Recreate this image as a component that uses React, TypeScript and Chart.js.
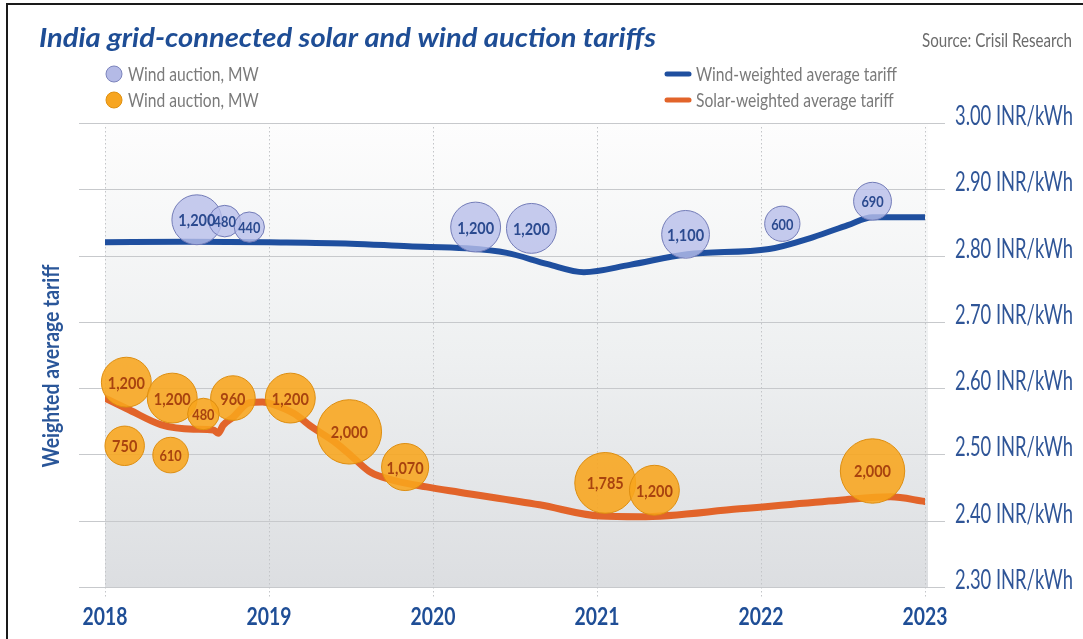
import React, { useEffect, useRef } from "react";
import { Chart, registerables } from "chart.js";

Chart.register(...registerables);

// ---------- DATA ----------
const yearTicks = [2018, 2019, 2020, 2021, 2022, 2023];
const tariffTicks = [2.3, 2.4, 2.5, 2.6, 2.7, 2.8, 2.9, 3.0];

const windLineYears = [2018.0, 2018.5, 2019.0, 2019.5, 2019.85, 2020.2, 2020.45, 2020.7, 2020.92, 2021.2, 2021.55, 2022.05, 2022.32, 2022.53, 2022.68, 2023.0];
const windLineTariff = [2.82, 2.821, 2.82, 2.818, 2.814, 2.811, 2.804, 2.787, 2.775, 2.786, 2.802, 2.81, 2.828, 2.846, 2.858, 2.858];

const solarLineYears = [2018.0, 2018.15, 2018.34, 2018.54, 2018.66, 2018.69, 2018.72, 2018.78, 2018.88, 2018.96, 2019.03, 2019.15, 2019.27, 2019.41, 2019.51, 2019.62, 2019.76, 2019.96, 2020.16, 2020.65, 2021.02, 2021.26, 2021.87, 2022.48, 2022.79, 2023.0];
const solarLineTariff = [2.585, 2.567, 2.545, 2.538, 2.537, 2.532, 2.544, 2.556, 2.578, 2.579, 2.575, 2.562, 2.54, 2.517, 2.496, 2.473, 2.461, 2.451, 2.443, 2.424, 2.407, 2.406, 2.418, 2.431, 2.436, 2.429];

const windBubbleYears = [2018.56, 2018.73, 2018.88, 2020.26, 2020.6, 2021.54, 2022.13, 2022.68];
const windBubbleTariff = [2.854, 2.852, 2.843, 2.843, 2.841, 2.832, 2.848, 2.882];
const windBubbleMW = [1200, 480, 440, 1200, 1200, 1100, 600, 690];

const solarBubbleYears = [2018.13, 2018.12, 2018.41, 2018.4, 2018.78, 2018.6, 2019.13, 2019.49, 2019.83, 2021.05, 2021.35, 2022.68];
const solarBubbleTariff = [2.609, 2.513, 2.585, 2.499, 2.585, 2.561, 2.585, 2.534, 2.481, 2.457, 2.446, 2.475];
const solarBubbleMW = [1200, 750, 1200, 610, 960, 480, 1200, 2000, 1070, 1785, 1200, 2000];

const TITLE = "India grid-connected solar and wind auction tariffs";
const SOURCE = "Source: Crisil Research";
const Y_TITLE = "Weighted average tariff";
const UNIT = "INR/kWh";

// ---------- STYLE ----------
const FONT = "Lato, 'Open Sans', 'DejaVu Sans', sans-serif";
const WIND_LINE = "#1f4f9f";
const SOLAR_LINE = "#e2642a";
const WIND_FILL = "rgba(184,190,234,0.8)";
const WIND_BORDER = "#737cb8";
const SOLAR_FILL = "rgba(248,165,28,0.88)";
const SOLAR_BORDER = "#de8e10";

const radiusFor = (mw: number) => 0.72 * Math.sqrt(mw);

function drawSqueezed(
  ctx: CanvasRenderingContext2D,
  text: string,
  x: number,
  y: number,
  font: string,
  color: string,
  sx: number,
  align: "left" | "center" | "right" = "left",
  baseline: CanvasTextBaseline = "alphabetic"
) {
  ctx.save();
  ctx.font = font;
  ctx.fillStyle = color;
  ctx.textAlign = "left";
  ctx.textBaseline = baseline;
  const w = ctx.measureText(text).width * sx;
  let x0 = x;
  if (align === "center") x0 = x - w / 2;
  else if (align === "right") x0 = x - w;
  ctx.translate(x0, y);
  ctx.scale(sx, 1);
  ctx.fillText(text, 0, 0);
  ctx.restore();
}

function fitScale(ctx: CanvasRenderingContext2D, font: string, sample: string, width: number) {
  ctx.save();
  ctx.font = font;
  const w = ctx.measureText(sample).width;
  ctx.restore();
  return width / w;
}

const decorPlugin = {
  id: "decor",
  beforeDraw(chart: any) {
    const ctx = chart.ctx as CanvasRenderingContext2D;
    ctx.save();
    ctx.fillStyle = "#ffffff";
    ctx.fillRect(0, 0, chart.width, chart.height);
    ctx.restore();
  },
  beforeDatasetsDraw(chart: any) {
    const ctx = chart.ctx as CanvasRenderingContext2D;
    const { top, bottom, left, right } = chart.chartArea;
    const xs = chart.scales.x;
    const ys = chart.scales.y;
    ctx.save();
    const g = ctx.createLinearGradient(0, top, 0, bottom);
    g.addColorStop(0, "#fdfdfd");
    g.addColorStop(0.5, "#eef0f1");
    g.addColorStop(1, "#dcdee1");
    ctx.fillStyle = g;
    ctx.fillRect(left, top, right + 3 - left, bottom - top);

    // horizontal grid
    ctx.strokeStyle = "#c7c9cc";
    ctx.lineWidth = 1.2;
    tariffTicks.forEach((t) => {
      const y = Math.round(ys.getPixelForValue(t)) + 0.5;
      ctx.beginPath();
      ctx.moveTo(left - 26, y);
      ctx.lineTo(right + 20, y);
      ctx.stroke();
    });
    // vertical dotted
    ctx.strokeStyle = "#c3c5c8";
    ctx.lineWidth = 1;
    ctx.setLineDash([1.5, 2.5]);
    yearTicks.forEach((yr) => {
      const x = Math.round(xs.getPixelForValue(yr)) + 0.5;
      ctx.beginPath();
      ctx.moveTo(x, top + 4);
      ctx.lineTo(x, bottom + 10);
      ctx.stroke();
    });
    ctx.restore();
  },
  afterDatasetsDraw(chart: any) {
    const ctx = chart.ctx as CanvasRenderingContext2D;
    const sx = fitScale(ctx, `bold 17px ${FONT}`, "1,200", 37);
    const sets = [
      { idx: 0, mw: windBubbleMW, color: "#2b4a8f" },
      { idx: 1, mw: solarBubbleMW, color: "#a8430f" },
    ];
    sets.forEach((s) => {
      const meta = chart.getDatasetMeta(s.idx);
      meta.data.forEach((el: any, i: number) => {
        const mw = s.mw[i];
        const size = mw >= 700 ? 17 : 15;
        drawSqueezed(ctx, mw.toLocaleString("en-US"), el.x, el.y + 1, `bold ${size}px ${FONT}`, s.color, sx, "center", "middle");
      });
    });
  },
  afterDraw(chart: any) {
    const ctx = chart.ctx as CanvasRenderingContext2D;
    const xs = chart.scales.x;
    const ys = chart.scales.y;
    const ds = chart.data.datasets;

    // title
    const tFont = `italic 700 26px ${FONT}`;
    drawSqueezed(ctx, TITLE, 39, 47, tFont, "#1e4d95", fitScale(ctx, tFont, TITLE, 617));
    // source
    const sFont = `400 19px ${FONT}`;
    drawSqueezed(ctx, SOURCE, 922, 47, sFont, "#6b6b6b", fitScale(ctx, sFont, SOURCE, 150));

    // legends
    const lFont = `400 20px ${FONT}`;
    const lsx = fitScale(ctx, lFont, ds[2].label, 201);
    const rows = [74, 100];
    [
      { fill: "#b4bae6", stroke: "#7c84bd" },
      { fill: "#f7a520", stroke: "#e0900f" },
    ].forEach((c, i) => {
      ctx.save();
      ctx.beginPath();
      ctx.arc(114, rows[i], 8, 0, Math.PI * 2);
      ctx.fillStyle = c.fill;
      ctx.fill();
      ctx.strokeStyle = c.stroke;
      ctx.lineWidth = 1;
      ctx.stroke();
      ctx.restore();
      drawSqueezed(ctx, ds[i].label, 128, rows[i] + 1, lFont, "#7a7a7a", lsx, "left", "middle");
    });
    [WIND_LINE, SOLAR_LINE].forEach((col, i) => {
      ctx.save();
      ctx.strokeStyle = col;
      ctx.lineWidth = 5;
      ctx.lineCap = "round";
      ctx.beginPath();
      ctx.moveTo(667, rows[i]);
      ctx.lineTo(689, rows[i]);
      ctx.stroke();
      ctx.restore();
      drawSqueezed(ctx, ds[i + 2].label, 696, rows[i] + 1, lFont, "#7a7a7a", lsx, "left", "middle");
    });

    // y tick labels
    const yFont = `400 26px ${FONT}`;
    const ysx = fitScale(ctx, yFont, `3.00 ${UNIT}`, 118);
    tariffTicks.forEach((t) => {
      const y = ys.getPixelForValue(t);
      drawSqueezed(ctx, `${t.toFixed(2)} ${UNIT}`, 955, y + 2, yFont, "#2f5597", ysx);
    });
    // x tick labels
    const xFont = `700 25px ${FONT}`;
    const xsx = fitScale(ctx, xFont, "2018", 45);
    yearTicks.forEach((yr) => {
      drawSqueezed(ctx, String(yr), xs.getPixelForValue(yr), 625, xFont, "#1f4e96", xsx, "center");
    });
    // y title
    const ytFont = `700 23px ${FONT}`;
    const ytsx = fitScale(ctx, ytFont, Y_TITLE, 203);
    ctx.save();
    ctx.translate(52, 366);
    ctx.rotate(-Math.PI / 2);
    drawSqueezed(ctx, Y_TITLE, 0, 0, ytFont, "#2a5699", ytsx, "center", "middle");
    ctx.restore();

    // frame
    ctx.save();
    ctx.strokeStyle = "#1a1a1a";
    ctx.lineWidth = 2;
    ctx.beginPath();
    ctx.moveTo(7, chart.height);
    ctx.lineTo(7, 4);
    ctx.lineTo(chart.width, 4);
    ctx.stroke();
    ctx.restore();
  },
};

export default function App() {
  const ref = useRef<HTMLCanvasElement | null>(null);
  useEffect(() => {
    if (!ref.current) return;
    const chart = new Chart(ref.current, {
      type: "bubble",
      data: {
        datasets: [
          {
            type: "bubble",
            label: "Wind auction, MW",
            data: windBubbleYears.map((x, i) => ({ x, y: windBubbleTariff[i], r: radiusFor(windBubbleMW[i]) })),
            backgroundColor: WIND_FILL,
            borderColor: WIND_BORDER,
            borderWidth: 1,
            order: 1,
            clip: false,
          } as any,
          {
            type: "bubble",
            label: "Wind auction, MW",
            data: solarBubbleYears.map((x, i) => ({ x, y: solarBubbleTariff[i], r: radiusFor(solarBubbleMW[i]) })),
            backgroundColor: SOLAR_FILL,
            borderColor: SOLAR_BORDER,
            borderWidth: 1,
            order: 1,
            clip: false,
          } as any,
          {
            type: "line",
            label: "Wind-weighted average tariff",
            data: windLineYears.map((x, i) => ({ x, y: windLineTariff[i] })),
            borderColor: WIND_LINE,
            borderWidth: 6,
            pointRadius: 0,
            cubicInterpolationMode: "monotone",
            borderCapStyle: "round",
            borderJoinStyle: "round",
            fill: false,
            order: 2,
          } as any,
          {
            type: "line",
            label: "Solar-weighted average tariff",
            data: solarLineYears.map((x, i) => ({ x, y: solarLineTariff[i] })),
            borderColor: SOLAR_LINE,
            borderWidth: 7,
            pointRadius: 0,
            cubicInterpolationMode: "monotone",
            borderCapStyle: "round",
            borderJoinStyle: "round",
            fill: false,
            order: 2,
          } as any,
        ],
      },
      options: {
        responsive: false,
        animation: false,
        events: [],
        layout: { padding: { left: 105, top: 123, right: 0, bottom: 0 } },
        plugins: { legend: { display: false }, tooltip: { enabled: false }, title: { display: false } },
        scales: {
          x: {
            type: "linear",
            min: 2018,
            max: 2023,
            grid: { display: false },
            border: { display: false },
            ticks: { display: false },
            afterFit: (s: any) => {
              s.height = 52;
            },
          },
          y: {
            type: "linear",
            position: "right",
            min: 2.3,
            max: 3.0,
            grid: { display: false },
            border: { display: false },
            ticks: { display: false },
            afterFit: (s: any) => {
              s.width = 158;
            },
          },
        },
      } as any,
      plugins: [decorPlugin],
    });
    return () => chart.destroy();
  }, []);
  return (
    <div style={{ position: "absolute", left: 0, top: 0, width: 1083, height: 639 }}>
      <canvas ref={ref} width={1083} height={639} style={{ display: "block" }} />
    </div>
  );
}
